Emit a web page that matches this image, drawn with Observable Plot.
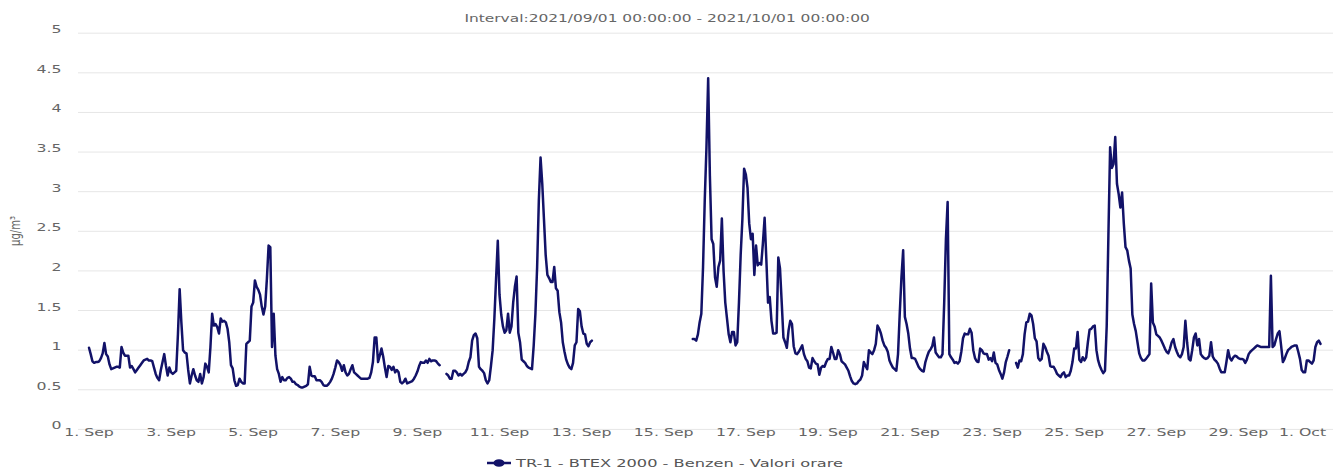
<!DOCTYPE html>
<html>
<head>
<meta charset="utf-8">
<script src="https://cdn.jsdelivr.net/npm/d3@7"></script>
<script src="https://cdn.jsdelivr.net/npm/@observablehq/plot@0.6"></script>
<style>
  body { margin: 0; background: #fff; }
  #chart { position: relative; width: 1335px; height: 470px; overflow: hidden; font-family: "DejaVu Sans", sans-serif; }
  #plot { position: absolute; left: 0; top: 0; }
  .title { position: absolute; left: 0; top: 11px; width: 1335px; text-align: center; font-size: 10.5px; line-height: 14px; color: #666; }
  .title span { display: inline-block; transform-origin: center center; white-space: nowrap; }
  .ylabel { position: absolute; left: 15px; top: 231px; font-size: 10px; color: #666; white-space: nowrap;
            transform: translate(-50%, -50%) rotate(-90deg) scaleY(1.45); }
  .legend-symbol { position: absolute; left: 486px; top: 457px; }
  .legend-text { position: absolute; left: 516px; top: 456px; font-size: 10.5px; line-height: 14px; color: #555; white-space: nowrap; transform-origin: left center; }
</style>
</head>
<body>
<div id="chart"></div>
<script>
// Hourly benzene concentrations (µg/m³), one array per day, hours 00..23; null = no measurement.
const sep01 = [1.03,0.95,0.86,0.84,0.85,0.85,0.86,0.9,0.96,1.09,0.95,0.92,0.82,0.76,0.77,0.78,0.79,0.79,0.78,1.04,0.97,0.93,0.93,0.93];
const sep02 = [0.78,0.8,0.76,0.72,0.75,0.78,0.81,0.84,0.87,0.88,0.89,0.87,0.87,0.86,0.78,0.7,0.65,0.62,0.75,0.85,0.95,0.8,0.68,0.78];
const sep03 = [0.72,0.7,0.72,0.74,1.2,1.77,1.35,1.0,0.97,0.96,0.75,0.58,0.68,0.76,0.68,0.62,0.6,0.7,0.58,0.66,0.83,0.79,0.72,1.04];
const sep04 = [1.46,1.31,1.33,1.29,1.21,1.4,1.36,1.37,1.35,1.27,1.1,0.81,0.77,0.62,0.55,0.56,0.64,0.6,0.58,0.58,1.08,1.1,1.12,1.55];
const sep05 = [1.6,1.88,1.8,1.76,1.7,1.55,1.45,1.55,1.9,2.32,2.3,1.04,1.46,0.93,0.76,0.7,0.6,0.66,0.62,0.62,0.65,0.66,0.64,0.6];
const sep06 = [0.6,0.57,0.56,0.54,0.53,0.53,0.54,0.55,0.57,0.79,0.68,0.67,0.67,0.62,0.62,0.62,0.6,0.56,0.55,0.55,0.57,0.6,0.64,0.7];
const sep07 = [0.78,0.87,0.85,0.81,0.74,0.81,0.72,0.68,0.7,0.76,0.81,0.72,0.7,0.68,0.66,0.64,0.64,0.64,0.64,0.64,0.65,0.72,0.85,1.16];
const sep08 = [1.16,0.85,0.93,1.02,0.92,0.78,0.66,0.8,0.79,0.75,0.79,0.72,0.75,0.72,0.6,0.58,0.6,0.64,0.58,0.59,0.6,0.61,0.64,0.68];
const sep09 = [0.73,0.8,0.85,0.84,0.84,0.87,0.84,0.89,0.86,0.87,0.87,0.86,0.83,0.81,null,null,null,0.7,0.68,0.64,0.64,0.74,0.74,0.72];
const sep10 = [0.68,0.7,0.68,0.7,0.72,0.76,0.85,0.91,1.12,1.19,1.21,1.15,0.79,0.76,0.74,0.71,0.62,0.58,0.62,0.8,1.0,1.4,1.9,2.38];
const sep11 = [1.7,1.45,1.3,1.22,1.25,1.46,1.22,1.3,1.6,1.8,1.93,1.22,1.1,0.88,0.86,0.84,0.8,0.78,0.77,0.76,1.06,1.46,2.05,2.89];
const sep12 = [3.43,3.1,2.65,2.2,1.95,1.91,1.86,1.86,2.05,1.78,1.75,1.48,1.35,1.1,0.98,0.88,0.82,0.78,0.76,0.84,1.06,1.1,1.52,1.49];
const sep13 = [1.3,1.21,1.2,1.08,1.05,1.1,1.12,null,null,null,null,null,null,null,null,null,null,null,null,null,null,null,null,null];
const sep14 = [null,null,null,null,null,null,null,null,null,null,null,null,null,null,null,null,null,null,null,null,null,null,null,null];
const sep15 = [null,null,null,null,null,null,null,null,null,null,null,null,null,null,null,null,null,1.14,1.14,1.12,1.2,1.35,1.46,2.05];
const sep16 = [2.89,3.56,4.43,3.2,2.4,2.34,1.92,1.8,2.05,2.13,2.66,2.0,1.6,1.4,1.2,1.1,1.23,1.23,1.06,1.1,1.6,2.2,2.65,3.29];
const sep17 = [3.22,3.05,2.6,2.4,2.47,1.95,2.32,2.07,2.1,2.08,2.35,2.67,2.15,1.6,1.67,1.37,1.21,1.21,1.22,2.17,2.03,1.6,1.16,1.1];
const sep18 = [1.03,1.25,1.37,1.33,1.05,0.96,0.95,0.98,1.02,1.06,0.95,0.89,0.86,0.78,0.77,0.9,0.86,0.83,0.82,0.69,0.78,0.8,0.79,0.85];
const sep19 = [0.89,0.89,1.04,0.97,0.89,0.89,1.0,0.95,0.86,0.84,0.82,0.78,0.74,0.67,0.61,0.58,0.57,0.58,0.61,0.63,0.68,0.85,0.8,0.76];
const sep20 = [1.0,0.97,0.95,1.0,1.08,1.31,1.27,1.21,1.12,1.06,1.03,0.98,0.87,0.82,0.78,0.76,0.74,0.95,1.46,1.92,2.26,1.42,1.33,1.21];
const sep21 = [1.02,0.9,0.9,0.89,0.84,0.79,0.76,0.74,0.73,0.85,0.92,0.98,1.01,1.05,1.16,0.97,0.94,0.91,0.91,0.95,1.6,2.4,2.87,0.95];
const sep22 = [0.91,0.88,0.84,0.85,0.83,0.86,0.98,1.15,1.21,1.2,1.2,1.27,1.22,1.0,0.9,0.86,0.85,1.02,1.0,0.96,0.95,0.95,0.88,0.9];
const sep23 = [0.86,0.97,0.84,0.82,0.75,0.7,0.64,0.72,0.85,0.92,1.0,null,null,null,0.84,0.78,0.87,0.86,0.95,1.2,1.35,1.36,1.46,1.44];
const sep24 = [1.33,1.15,1.11,0.9,0.87,0.89,1.08,1.04,0.98,0.93,0.8,0.79,0.79,0.75,0.7,0.68,0.66,0.7,0.72,0.66,0.68,0.68,0.74,0.85];
const sep25 = [1.02,1.02,1.23,0.88,0.85,0.91,0.87,0.91,1.1,1.26,1.27,1.3,1.31,1.0,0.87,0.8,0.75,0.71,0.74,1.3,2.45,3.56,3.3,3.35];
const sep26 = [3.69,3.1,2.97,2.8,2.99,2.6,2.3,2.26,2.13,2.03,1.45,1.33,1.24,1.1,0.96,0.9,0.87,0.87,0.89,0.92,0.95,1.84,1.35,1.3];
const sep27 = [1.2,1.18,1.16,1.12,1.07,1.02,0.98,0.96,1.02,1.1,1.14,1.04,0.98,0.93,0.91,0.95,1.04,1.37,1.1,0.89,0.87,1.0,1.16,1.21];
const sep28 = [1.06,1.14,0.95,0.92,0.9,0.89,0.9,0.93,1.1,0.92,0.88,0.86,0.83,0.77,0.72,0.72,0.72,0.85,1.0,0.9,0.87,0.91,0.93,0.92];
const sep29 = [0.9,0.89,0.89,0.88,0.84,0.88,0.95,0.98,1.0,1.02,1.04,1.06,1.05,1.04,1.04,1.04,1.04,1.04,1.04,1.94,1.04,1.06,1.14,1.21];
const sep30 = [1.24,1.05,0.85,0.89,0.95,1.0,1.02,1.04,1.05,1.06,1.06,0.98,0.89,0.75,0.72,0.72,0.87,0.87,0.85,0.83,0.87,1.04,1.1,1.12];
const oct01 = [1.08];

// Axis ticks and texts
const yTicks = [0, 0.5, 1, 1.5, 2, 2.5, 3, 3.5, 4, 4.5, 5];
const xTickDays = ["2021-09-01","2021-09-03","2021-09-05","2021-09-07","2021-09-09","2021-09-11","2021-09-13","2021-09-15",
                   "2021-09-17","2021-09-19","2021-09-21","2021-09-23","2021-09-25","2021-09-27","2021-09-29","2021-10-01"];
const titleText = "Interval:2021/09/01 00:00:00 - 2021/10/01 00:00:00";
const unitText = "µg/m³";
const seriesName = "TR-1 - BTEX 2000 - Benzen - Valori orare";

const LINE = "#121268";
const FONT = '"DejaVu Sans", sans-serif';
const TEXT_WIDEN = 1.5;

const start = Date.UTC(2021, 8, 1);
const days = [sep01,sep02,sep03,sep04,sep05,sep06,sep07,sep08,sep09,sep10,sep11,sep12,sep13,sep14,sep15,
              sep16,sep17,sep18,sep19,sep20,sep21,sep22,sep23,sep24,sep25,sep26,sep27,sep28,sep29,sep30,oct01];
const rows = days.flat().map((v, i) => ({time: new Date(start + i * 3600e3), value: v}));
const xTicks = xTickDays.map(d => new Date(d + "T00:00:00Z"));
const fmt = d3.utcFormat("%-d. %b");

const svg = Plot.plot({
  width: 1335,
  height: 452,
  marginLeft: 88.5,
  marginRight: 15,
  marginTop: 32.7,
  marginBottom: 23.1,
  style: {fontFamily: FONT, fontSize: "10.5px", color: "#666", background: "transparent"},
  x: {type: "utc", domain: [new Date(start), new Date(Date.UTC(2021, 9, 1))]},
  y: {domain: [0, 5]},
  marks: [
    Plot.ruleY(yTicks, {stroke: "#e6e6e6", strokeWidth: 1, insetLeft: -10.5, insetRight: -13}),
    Plot.axisY(yTicks, {tickSize: 0, tickPadding: 27.5, tickFormat: d => String(d), label: null}),
    Plot.axisX(xTicks.slice(0, -1), {tickSize: 0, tickPadding: 7, tickFormat: fmt, label: null}),
    Plot.axisX(xTicks.slice(-1), {tickSize: 0, tickPadding: 7, tickFormat: fmt, label: null, dx: -18}),
    Plot.line(rows, {x: "time", y: "value", stroke: LINE, strokeWidth: 2.5})
  ]
});

const chart = document.getElementById("chart");
const plotDiv = document.createElement("div");
plotDiv.id = "plot";
plotDiv.appendChild(svg);
chart.appendChild(plotDiv);

// Widen tick labels horizontally around their anchor point
svg.querySelectorAll("text").forEach(el => {
  const t = el.getAttribute("transform") || "";
  const x = el.getAttribute("x"), y = el.getAttribute("y");
  el.removeAttribute("x");
  el.removeAttribute("y");
  el.setAttribute("transform", `${t} translate(${+x || 0},${+y || 0}) scale(${TEXT_WIDEN},1)`.trim());
});

// Title
const title = document.createElement("div");
title.className = "title";
const tspan = document.createElement("span");
tspan.textContent = titleText;
title.appendChild(tspan);
chart.appendChild(title);
tspan.style.transform = `scaleX(${405 / tspan.offsetWidth})`;

// Unit label
const ylab = document.createElement("div");
ylab.className = "ylabel";
ylab.textContent = unitText;
chart.appendChild(ylab);

// Legend
const sym = d3.create("svg").attr("class", "legend-symbol").attr("width", 26).attr("height", 12);
sym.append("line").attr("x1", 1).attr("x2", 25).attr("y1", 6).attr("y2", 6).attr("stroke", LINE).attr("stroke-width", 2.5);
sym.append("ellipse").attr("cx", 13).attr("cy", 6).attr("rx", 5.5).attr("ry", 3.8).attr("fill", LINE);
chart.appendChild(sym.node());
const ltext = document.createElement("div");
ltext.className = "legend-text";
ltext.textContent = seriesName;
chart.appendChild(ltext);
ltext.style.transform = `scaleX(${327 / ltext.offsetWidth})`;
</script>
</body>
</html>
